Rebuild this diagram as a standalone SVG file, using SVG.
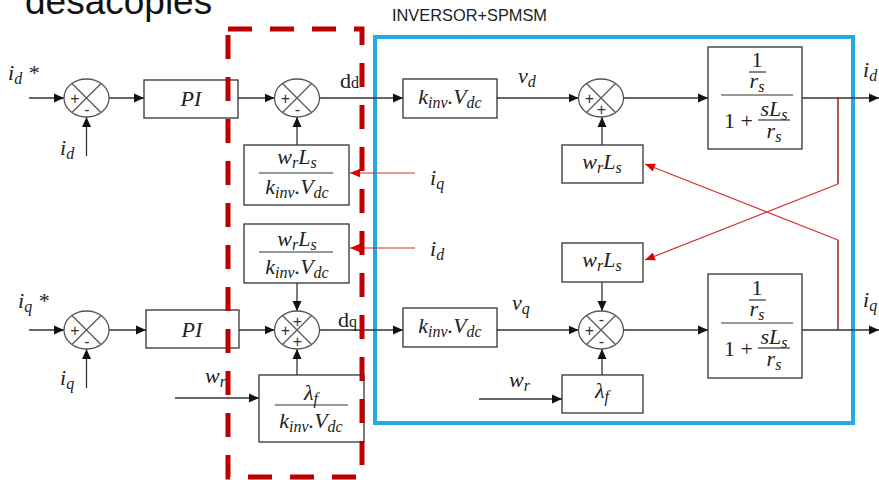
<svg xmlns="http://www.w3.org/2000/svg" xmlns:xlink="http://www.w3.org/1999/xlink" width="879" height="480" viewBox="0 0 879 480">
<style>
.ln{stroke:#333;stroke-width:1.3;fill:none}
.bx{stroke:#333;stroke-width:1.3;fill:#fff}
.m{font-family:"Liberation Serif",serif;font-style:italic;font-size:22px;fill:#222}
.r{font-family:"Liberation Serif",serif;font-size:22px;fill:#222}
.s{font-size:16px}
.sg{font-family:"Liberation Sans",Arial,sans-serif;font-size:16px;fill:#333;text-anchor:middle}
.fl{stroke:#333;stroke-width:1.2}
.rd{stroke:#cc3333;stroke-width:1.2;fill:none}
.rdk{stroke:#a32a2e;stroke-width:1.6;fill:none}
</style>
<defs>
<marker id="ah" markerUnits="userSpaceOnUse" markerWidth="10" markerHeight="10" refX="10" refY="5" orient="auto"><path d="M0,0.5 L10,5 L0,9.5 z" fill="#111"/></marker>
<marker id="ar" markerUnits="userSpaceOnUse" markerWidth="10" markerHeight="10" refX="10" refY="5" orient="auto"><path d="M0,0.8 L10,5 L0,9.2 z" fill="#e00000"/></marker>
<g id="sum"><ellipse cx="0" cy="0" rx="22.5" ry="19" fill="#fff" stroke="#555" stroke-width="1.3"/><path d="M-14.5,-14.5 L14.5,14.5 M-14.5,14.5 L14.5,-14.5" stroke="#555" stroke-width="1.2"/></g>
</defs>
<rect width="879" height="480" fill="#fff"/>
<text x="25" y="14" font-family="Liberation Sans,Arial,sans-serif" font-size="37" fill="#111">desacoples</text>
<text x="392" y="21" font-family="Liberation Sans,Arial,sans-serif" font-size="17" fill="#222" textLength="155" lengthAdjust="spacingAndGlyphs">INVERSOR+SPMSM</text>

<g id="frames">
<rect x="375" y="37" width="478" height="386" fill="none" stroke="#27a9e1" stroke-width="4"/>
</g>

<g id="connectors">
<path class="ln" marker-end="url(#ah)" d="M29,98 H64"/>
<path class="ln" marker-end="url(#ah)" d="M86.5,156 V117"/>
<path class="ln" marker-end="url(#ah)" d="M109,98 H144"/>
<path class="ln" marker-end="url(#ah)" d="M238,98 H274.5"/>
<path class="ln" marker-end="url(#ah)" d="M319.5,98 H403"/>
<path class="ln" marker-end="url(#ah)" d="M297,145 V117"/>
<path class="ln" marker-end="url(#ah)" d="M497,98 H578.5"/>
<path class="ln" marker-end="url(#ah)" d="M602,145 V117"/>
<path class="ln" marker-end="url(#ah)" d="M623.5,98 H708"/>
<path class="ln" marker-end="url(#ah)" d="M802,98 H879"/>
<path class="ln" marker-end="url(#ah)" d="M29,330 H64"/>
<path class="ln" marker-end="url(#ah)" d="M86.5,388 V349"/>
<path class="ln" marker-end="url(#ah)" d="M109,330 H146"/>
<path class="ln" marker-end="url(#ah)" d="M239,330 H274.5"/>
<path class="ln" marker-end="url(#ah)" d="M297,283 V311"/>
<path class="ln" marker-end="url(#ah)" d="M297,375 V349"/>
<path class="ln" marker-end="url(#ah)" d="M175,398 H259"/>
<path class="ln" marker-end="url(#ah)" d="M319.5,330 H403"/>
<path class="ln" marker-end="url(#ah)" d="M497,330 H578.5"/>
<path class="ln" marker-end="url(#ah)" d="M602,282 V311"/>
<path class="ln" marker-end="url(#ah)" d="M602,375 V349"/>
<path class="ln" marker-end="url(#ah)" d="M479,399 H562"/>
<path class="ln" marker-end="url(#ah)" d="M623.5,330 H708"/>
<path class="ln" marker-end="url(#ah)" d="M802,330 H879"/>
<path class="rd" marker-end="url(#ar)" d="M415,173 H350"/>
<path class="rd" marker-end="url(#ar)" d="M415,248 H350"/>
<path class="rdk" d="M838,98 V184"/>
<path class="rdk" d="M838,240 V330"/>
<path class="rd" marker-end="url(#ar)" d="M838,184 L645,260"/>
<path class="rd" marker-end="url(#ar)" d="M838,240 L645,164"/>
</g>

<g id="sum_d1"><use xlink:href="#sum" x="86.5" y="98"/><text class="sg" x="75" y="104">+</text><text class="sg" x="87" y="115">-</text></g>
<g id="pi_d"><rect class="bx" x="144" y="80" width="94" height="38"/><text class="m" x="191" y="106" text-anchor="middle">PI</text></g>
<g id="sum_d2"><use xlink:href="#sum" x="297" y="98"/><text class="sg" x="285.5" y="104">+</text><text class="sg" x="297.5" y="115">-</text></g>
<g id="dec_d"><rect class="bx" x="244" y="145" width="105" height="60"/>
<text class="m" x="297" y="164" text-anchor="middle">w<tspan class="s" dy="4">r</tspan><tspan dy="-4">L</tspan><tspan class="s" dy="4">s</tspan></text>
<line class="fl" x1="259" y1="173" x2="333" y2="173"/>
<text class="m" x="297" y="194" text-anchor="middle">k<tspan class="s" dy="4">inv</tspan><tspan dy="-4">.V</tspan><tspan class="s" dy="4">dc</tspan></text></g>
<g id="dec_q"><rect class="bx" x="244" y="224" width="105" height="59"/>
<text class="m" x="297" y="246" text-anchor="middle">w<tspan class="s" dy="4">r</tspan><tspan dy="-4">L</tspan><tspan class="s" dy="4">s</tspan></text>
<line class="fl" x1="259" y1="252" x2="333" y2="252"/>
<text class="m" x="297" y="274" text-anchor="middle">k<tspan class="s" dy="4">inv</tspan><tspan dy="-4">.V</tspan><tspan class="s" dy="4">dc</tspan></text></g>
<g id="kinv_d"><rect class="bx" x="403" y="79" width="94" height="39"/><text class="m" x="450" y="104" text-anchor="middle">k<tspan class="s" dy="4">inv</tspan><tspan dy="-4">.V</tspan><tspan class="s" dy="4">dc</tspan></text></g>
<g id="sum_d3"><use xlink:href="#sum" x="601" y="98"/><text class="sg" x="589.5" y="104">+</text><text class="sg" x="601.5" y="115">+</text></g>
<g id="wl_d"><rect class="bx" x="562" y="145" width="81" height="38"/><text class="m" x="602" y="169" text-anchor="middle">w<tspan class="s" dy="4">r</tspan><tspan dy="-4">L</tspan><tspan class="s" dy="4">s</tspan></text></g>
<g id="plant_d"><rect class="bx" x="708" y="47" width="94" height="102"/>
<text class="r" x="757" y="67" text-anchor="middle">1</text>
<line class="fl" x1="749" y1="72" x2="766" y2="72"/>
<text class="m" x="757" y="88" text-anchor="middle">r<tspan class="s" dy="4">s</tspan></text>
<line class="fl" x1="721" y1="95" x2="793" y2="95"/>
<text class="r" x="724" y="128">1 +</text>
<text class="m" x="774" y="116" text-anchor="middle">sL<tspan class="s" dy="4">s</tspan></text>
<line class="fl" x1="758" y1="120" x2="790" y2="120"/>
<text class="m" x="774" y="138" text-anchor="middle">r<tspan class="s" dy="4">s</tspan></text></g>

<g id="sum_q1"><use xlink:href="#sum" x="86.5" y="330"/><text class="sg" x="75" y="336">+</text><text class="sg" x="87" y="347">-</text></g>
<g id="pi_q"><rect class="bx" x="146" y="310" width="93" height="38"/><text class="m" x="192" y="337" text-anchor="middle">PI</text></g>
<g id="sum_q2"><use xlink:href="#sum" x="297" y="330"/><text class="sg" x="285.5" y="336">+</text><text class="sg" x="297.5" y="327">+</text><text class="sg" x="297.5" y="347">+</text></g>
<g id="lam_dec"><rect class="bx" x="259" y="375" width="105" height="67"/>
<text class="m" x="311" y="400" text-anchor="middle">λ<tspan class="s" dy="4">f</tspan></text>
<line class="fl" x1="275" y1="405" x2="348" y2="405"/>
<text class="m" x="311" y="428" text-anchor="middle">k<tspan class="s" dy="4">inv</tspan><tspan dy="-4">.V</tspan><tspan class="s" dy="4">dc</tspan></text></g>
<g id="kinv_q"><rect class="bx" x="403" y="308" width="94" height="39"/><text class="m" x="450" y="333" text-anchor="middle">k<tspan class="s" dy="4">inv</tspan><tspan dy="-4">.V</tspan><tspan class="s" dy="4">dc</tspan></text></g>
<g id="sum_q3"><use xlink:href="#sum" x="601" y="330"/><text class="sg" x="589.5" y="336">+</text><text class="sg" x="601.5" y="325">-</text><text class="sg" x="601.5" y="347">-</text></g>
<g id="wl_q"><rect class="bx" x="562" y="243" width="81" height="39"/><text class="m" x="602" y="267" text-anchor="middle">w<tspan class="s" dy="4">r</tspan><tspan dy="-4">L</tspan><tspan class="s" dy="4">s</tspan></text></g>
<g id="lam_q"><rect class="bx" x="562" y="375" width="81" height="38"/><text class="m" x="602" y="398" text-anchor="middle">λ<tspan class="s" dy="4">f</tspan></text></g>
<g id="plant_q"><rect class="bx" x="708" y="274" width="94" height="104"/>
<text class="r" x="757" y="295" text-anchor="middle">1</text>
<line class="fl" x1="749" y1="300" x2="766" y2="300"/>
<text class="m" x="757" y="316" text-anchor="middle">r<tspan class="s" dy="4">s</tspan></text>
<line class="fl" x1="721" y1="323" x2="793" y2="323"/>
<text class="r" x="724" y="356">1 +</text>
<text class="m" x="774" y="344" text-anchor="middle">sL<tspan class="s" dy="4">s</tspan></text>
<line class="fl" x1="758" y1="348" x2="790" y2="348"/>
<text class="m" x="774" y="366" text-anchor="middle">r<tspan class="s" dy="4">s</tspan></text></g>

<g id="labels">
<text class="m" x="8" y="80">i<tspan class="s" dy="4">d</tspan><tspan dy="-4"> *</tspan></text>
<text class="m" x="60" y="155">i<tspan class="s" dy="4">d</tspan></text>
<text class="r" x="340" y="88">d<tspan font-size="16">d</tspan></text>
<text class="m" x="518" y="83">v<tspan class="s" dy="4">d</tspan></text>
<text class="m" x="430" y="185">i<tspan class="s" dy="4">q</tspan></text>
<text class="m" x="430" y="256">i<tspan class="s" dy="4">d</tspan></text>
<text class="m" x="863" y="77">i<tspan class="s" dy="4">d</tspan></text>
<text class="m" x="18" y="308">i<tspan class="s" dy="4">q</tspan><tspan dy="-4"> *</tspan></text>
<text class="m" x="60" y="385">i<tspan class="s" dy="4">q</tspan></text>
<text class="r" x="338" y="327">d<tspan font-size="16">q</tspan></text>
<text class="m" x="205" y="383">w<tspan class="s" dy="4">r</tspan></text>
<text class="m" x="512" y="310">v<tspan class="s" dy="4">q</tspan></text>
<text class="m" x="509" y="387">w<tspan class="s" dy="4">r</tspan></text>
<text class="m" x="863" y="307">i<tspan class="s" dy="4">q</tspan></text>
</g>

<g id="decoupling_frame">
<rect x="228" y="29" width="134" height="448" fill="none" stroke="#c00000" stroke-width="5" stroke-dasharray="24 18"/>
</g>
</svg>
